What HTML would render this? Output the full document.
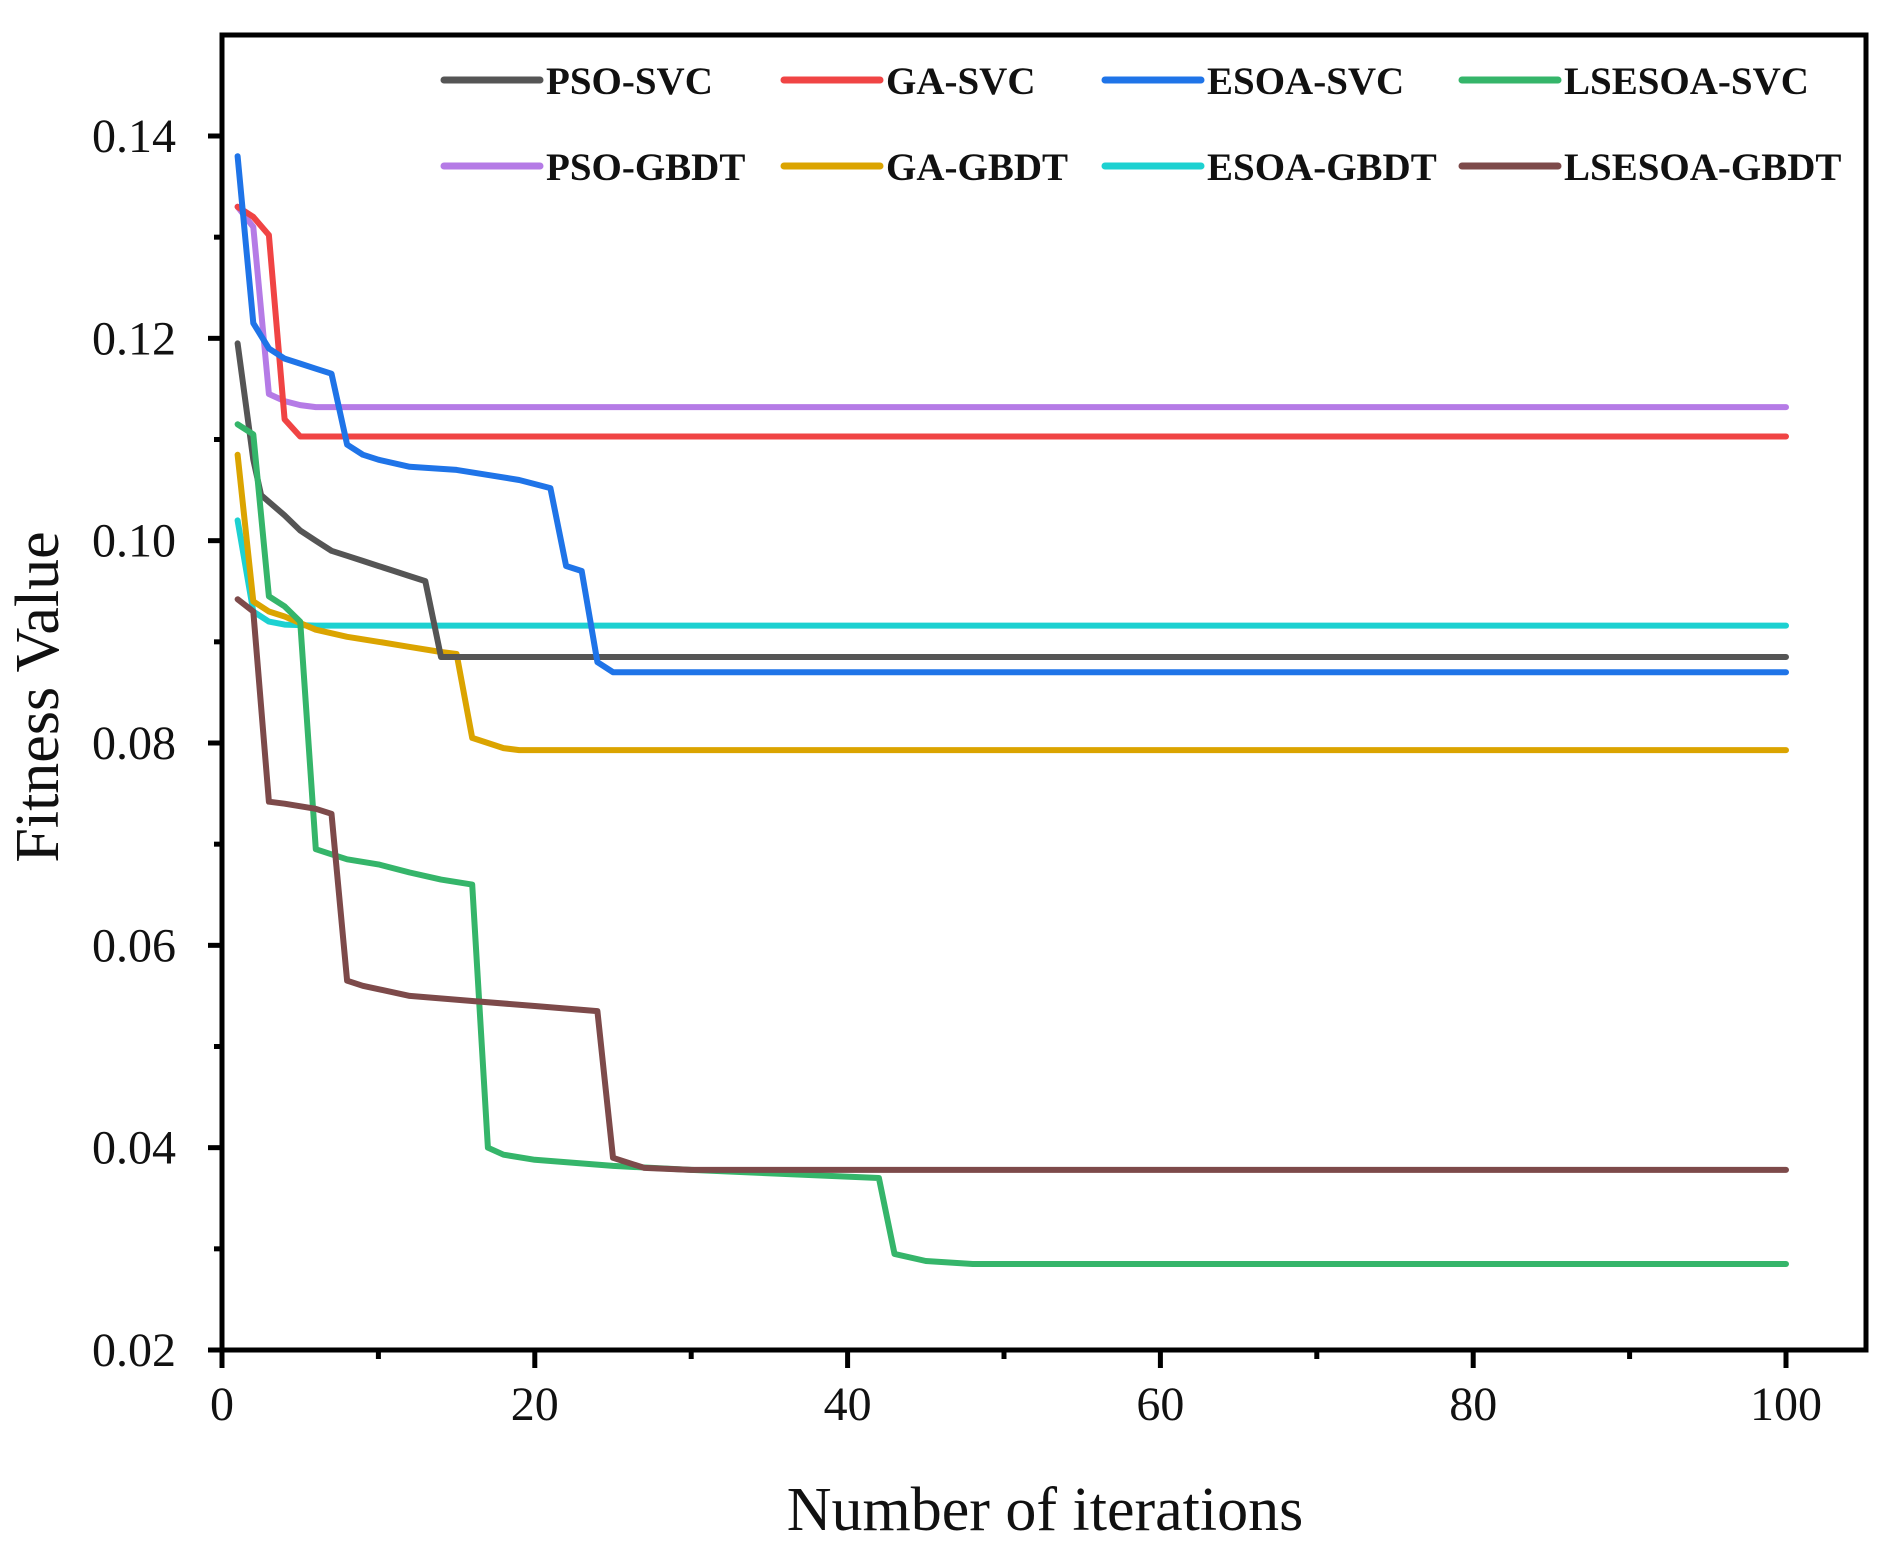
<!DOCTYPE html>
<html><head><meta charset="utf-8"><style>
html,body{margin:0;padding:0;background:#fff;}
svg{display:block;}
text{font-family:"Liberation Serif",serif;fill:#111;}
</style></head><body>
<svg id="chart" width="1891" height="1562" viewBox="0 0 1891 1562" xmlns="http://www.w3.org/2000/svg">
<g id="plot"></g>
<g id="axes"></g>
<g id="legend"></g>
</svg>
<script>
const xTicks=[0,20,40,60,80,100];
const yTicks=[0.02,0.04,0.06,0.08,0.10,0.12,0.14];
const yTickLabels=["0.02","0.04","0.06","0.08","0.10","0.12","0.14"];
const seriesNames=["PSO-SVC","GA-SVC","ESOA-SVC","LSESOA-SVC","PSO-GBDT","GA-GBDT","ESOA-GBDT","LSESOA-GBDT"];
const seriesColors=["#555555","#f04444","#1f74e8","#35b56a","#b57be6","#dba400","#1dd1d1","#7d4a4a"];
const psoSvcX=[1,2,2.5,4,5,6,7,8,9,10,11,12,13,14,100];
const psoSvcY=[0.1195,0.108,0.1045,0.1025,0.101,0.1,0.099,0.0985,0.098,0.0975,0.097,0.0965,0.096,0.0885,0.0885];
const gaSvcX=[1,2,3,4,5,100];
const gaSvcY=[0.133,0.132,0.1302,0.112,0.1103,0.1103];
const esoaSvcX=[1,2,3,4,5,6,7,8,9,10,12,15,17,19,21,22,23,24,25,100];
const esoaSvcY=[0.138,0.1215,0.119,0.118,0.1175,0.117,0.1165,0.1095,0.1085,0.108,0.1073,0.107,0.1065,0.106,0.1052,0.0975,0.097,0.088,0.087,0.087];
const lsesoaSvcX=[1,2,3,4,5,6,7,8,10,12,14,16,17,18,20,25,30,42,43,45,48,100];
const lsesoaSvcY=[0.1115,0.1105,0.0945,0.0935,0.092,0.0695,0.069,0.0685,0.068,0.0672,0.0665,0.066,0.040,0.0393,0.0388,0.0382,0.0378,0.037,0.0295,0.0288,0.0285,0.0285];
const psoGbdtX=[1,2,3,4,5,6,100];
const psoGbdtY=[0.133,0.131,0.1145,0.1138,0.1134,0.1132,0.1132];
const gaGbdtX=[1,2,3,4,6,8,10,12,14,15,16,17,18,19,100];
const gaGbdtY=[0.1085,0.094,0.093,0.0925,0.0912,0.0905,0.09,0.0895,0.089,0.0888,0.0805,0.08,0.0795,0.0793,0.0793];
const esoaGbdtX=[1,2,3,4,6,100];
const esoaGbdtY=[0.102,0.093,0.092,0.0917,0.0916,0.0916];
const lsesoaGbdtX=[1,2,3,4,6,7,8,9,12,16,20,24,25,27,30,100];
const lsesoaGbdtY=[0.0942,0.093,0.0742,0.074,0.0735,0.073,0.0565,0.056,0.055,0.0545,0.054,0.0535,0.039,0.038,0.0378,0.0378];
const seriesX=[psoSvcX,gaSvcX,esoaSvcX,lsesoaSvcX,psoGbdtX,gaGbdtX,esoaGbdtX,lsesoaGbdtX];
const seriesY=[psoSvcY,gaSvcY,esoaSvcY,lsesoaSvcY,psoGbdtY,gaGbdtY,esoaGbdtY,lsesoaGbdtY];

const L=222,R=1866,T=35,B=1350;
const X0=222,X100=1786;
const sx=v=>X0+(X100-X0)*v/100;
const sy=v=>B-(B-136)*(v-0.02)/0.12;
const NS="http://www.w3.org/2000/svg";
function mk(tag,attrs,parent){const e=document.createElementNS(NS,tag);for(const k in attrs)e.setAttribute(k,attrs[k]);parent.appendChild(e);return e;}
const plot=document.getElementById('plot'),axes=document.getElementById('axes'),legend=document.getElementById('legend');

const order=[6,5,4,1,0,2,3,7];
order.forEach(i=>{
  const pts=seriesX[i].map((x,j)=>sx(x).toFixed(1)+','+sy(seriesY[i][j]).toFixed(1)).join(' ');
  const p=mk('polyline',{points:pts,fill:'none',stroke:seriesColors[i],'stroke-width':6,'stroke-linejoin':'round','stroke-linecap':'round'},plot);
  
  
});

const fr=mk('rect',{x:L,y:T,width:R-L,height:B-T,fill:'none',stroke:'#000','stroke-width':5},axes);



yTicks.forEach((v,i)=>{
  const y=sy(v);
  mk('line',{x1:L-14,y1:y,x2:L,y2:y,stroke:'#000','stroke-width':5},axes);
  const t=mk('text',{x:L-46,y:y+16,'text-anchor':'end','font-size':48},axes);
  t.textContent=yTickLabels[i];
  
  
  if(i<yTicks.length-1){const ym=sy(v+0.01);mk('line',{x1:L-8,y1:ym,x2:L,y2:ym,stroke:'#000','stroke-width':5},axes);}
});
xTicks.forEach((v,i)=>{
  const x=sx(v);
  mk('line',{x1:x,y1:B,x2:x,y2:B+18,stroke:'#000','stroke-width':5},axes);
  const t=mk('text',{x:x,y:B+70,'text-anchor':'middle','font-size':48},axes);
  t.textContent=String(v);
  
  
  if(i<xTicks.length-1){const xm=sx(v+10);mk('line',{x1:xm,y1:B,x2:xm,y2:B+9,stroke:'#000','stroke-width':5},axes);}
});
const xt=mk('text',{x:1045,y:1530,'text-anchor':'middle','font-size':62},axes);
xt.textContent='Number of iterations';


const yt=mk('text',{x:0,y:0,'text-anchor':'middle','font-size':62,transform:'translate(58,697) rotate(-90)'},axes);
yt.textContent='Fitness Value';



const colX=[442,782,1103,1460];
const rowY=[80,166];
seriesNames.forEach((n,i)=>{
  const cx=colX[i%4],cy=rowY[Math.floor(i/4)];
  const g=mk('g',{},legend);
  
  
  mk('line',{x1:cx+2,y1:cy,x2:cx+98,y2:cy,stroke:seriesColors[i],'stroke-width':7,'stroke-linecap':'round'},g);
  const t=mk('text',{x:cx+104,y:cy+14,'font-size':39,'font-weight':'bold'},g);
  t.textContent=n;
});
</script>
</body></html>
